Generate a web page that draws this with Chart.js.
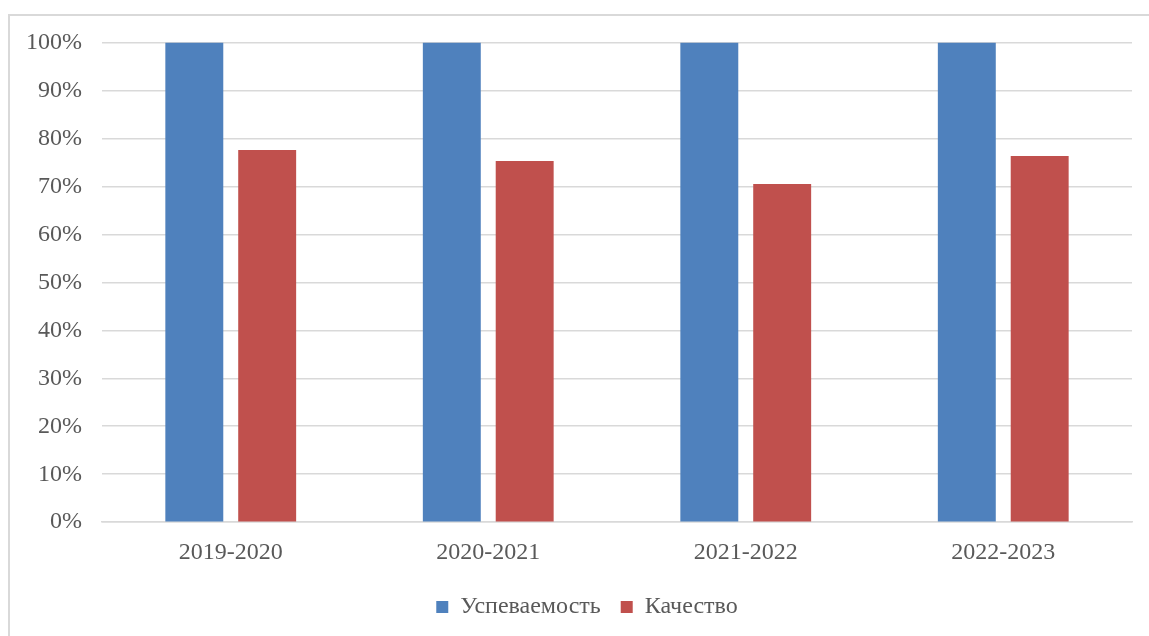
<!DOCTYPE html>
<html lang="ru">
<head>
    <meta charset="UTF-8">
    <title>Успеваемость и качество</title>
    <script src="https://cdn.jsdelivr.net/npm/chart.js"></script>
    <style>
        body {
            margin: 0;
            background: #fff;
            overflow: hidden;
        }
        .frame {
            position: absolute;
            left: 8px;
            top: 14px;
            width: 1200px;
            height: 700px;
            border: 2px solid #d9d9d9;
            box-sizing: border-box;
        }
        .chart-box {
            position: absolute;
            left: 10px;
            top: 8px;
        }
    </style>
</head>
<body>

<div class="frame"></div>
<div class="chart-box">
    <canvas id="gradesChart" width="1139" height="628"></canvas>
</div>

<script>
    // Учебные годы и показатели (в процентах)
    const years = ['2019-2020', '2020-2021', '2021-2022', '2022-2023'];
    const uspevaemost = [100, 100, 100, 100];
    const kachestvo = [77.6, 75.3, 70.5, 76.3];
    const yTicks = [0, 10, 20, 30, 40, 50, 60, 70, 80, 90, 100];

    const textColor = '#595959';
    const serif = { family: "'Liberation Serif', 'DejaVu Serif', serif", size: 24 };

    // legend sits a bit right of the canvas centre in the original
    const legendShift = {
        id: 'legendShift',
        afterLayout(chart) {
            chart.legend.left += 18;
            chart.legend.right += 18;
        }
    };

    new Chart(document.getElementById('gradesChart').getContext('2d'), {
        type: 'bar',
        data: {
            labels: years,
            datasets: [
                {
                    label: 'Успеваемость',
                    data: uspevaemost,
                    backgroundColor: '#4f81bd'
                },
                {
                    label: 'Качество',
                    data: kachestvo,
                    backgroundColor: '#c0504d'
                }
            ]
        },
        options: {
            responsive: false,
            animation: false,
            categoryPercentage: 0.566,
            barPercentage: 0.795,
            layout: {
                padding: { left: -4, right: 17, top: 0, bottom: 7 }
            },
            plugins: {
                tooltip: { enabled: false },
                legend: {
                    position: 'bottom',
                    labels: {
                        boxWidth: 12,
                        boxHeight: 12,
                        padding: 20,
                        color: textColor,
                        font: serif
                    }
                }
            },
            scales: {
                x: {
                    grid: { display: false },
                    border: { color: '#d9d9d9', width: 1.5 },
                    ticks: { color: textColor, font: serif, padding: 8 }
                },
                y: {
                    min: 0,
                    max: 100,
                    afterBuildTicks: axis => {
                        axis.ticks = yTicks.map(v => ({ value: v }));
                    },
                    grid: { color: '#d9d9d9', lineWidth: 1.5, drawTicks: false },
                    border: { display: false },
                    ticks: {
                        color: textColor,
                        font: serif,
                        padding: 20,
                        callback: v => v + '%'
                    }
                }
            }
        },
        plugins: [legendShift]
    });
</script>
</body>
</html>
